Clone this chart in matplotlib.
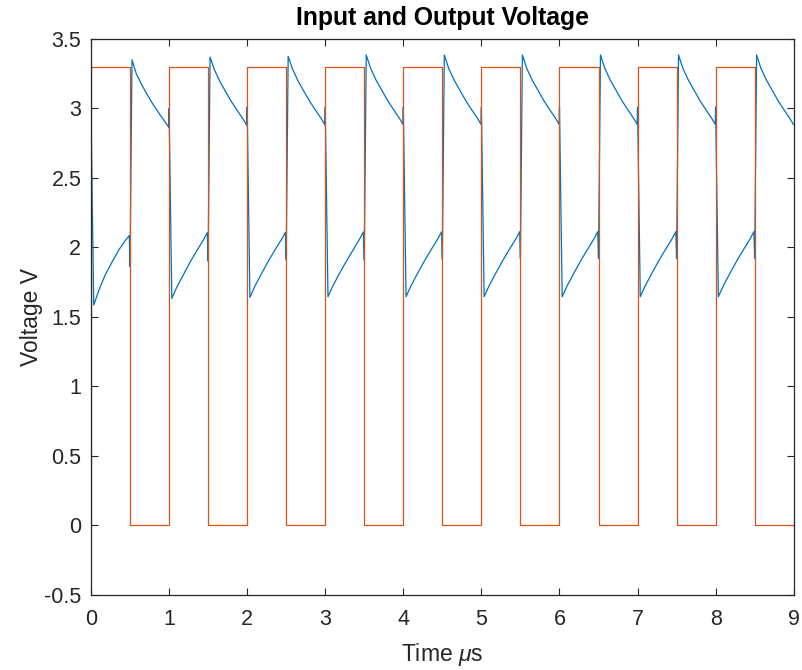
import numpy as np
import matplotlib
matplotlib.use("Agg")
import matplotlib.pyplot as plt
from matplotlib.ticker import FormatStrFormatter

# ---------------- data ----------------
# Input square wave: transition times (µs) and levels (V), step "post"
input_times = [0, 0, 0.5, 1, 1.5, 2, 2.5, 3, 3.5, 4, 4.5, 5, 5.5, 6, 6.5, 7, 7.5, 8, 8.5, 9]
input_levels = [0, 3.3, 0, 3.3, 0, 3.3, 0, 3.3, 0, 3.3, 0, 3.3, 0, 3.3, 0, 3.3, 0, 3.3, 0, 0]

# Output voltage, per cycle (cycle k spans k .. k+1 µs)
cycles = [0, 1, 2, 3, 4, 5, 6, 7, 8]
# value right at the start of each cycle (spike before the drop)
out_spike_up = [2.96, 3.00, 3.01, 3.01, 3.01, 3.01, 3.01, 3.01, 3.01]
# charging part (input high), at offsets into the cycle
rise_offsets = [0.035, 0.10, 0.18, 0.27, 0.36, 0.44, 0.49]
out_rise = [
    [1.585, 1.69, 1.80, 1.895, 1.985, 2.05, 2.085],
    [1.633, 1.715, 1.80, 1.895, 1.98, 2.055, 2.106],
    [1.640, 1.722, 1.807, 1.900, 1.985, 2.058, 2.108],
    [1.645, 1.725, 1.810, 1.900, 1.985, 2.060, 2.112],
    [1.645, 1.725, 1.810, 1.902, 1.987, 2.060, 2.112],
    [1.645, 1.725, 1.810, 1.902, 1.987, 2.060, 2.113],
    [1.645, 1.725, 1.810, 1.902, 1.987, 2.060, 2.113],
    [1.645, 1.725, 1.810, 1.902, 1.987, 2.060, 2.113],
    [1.645, 1.725, 1.810, 1.902, 1.987, 2.060, 2.113],
]
# value right at mid-cycle (spike before the jump)
out_spike_down = [1.86, 1.90, 1.91, 1.91, 1.915, 1.92, 1.92, 1.92, 1.92]
# discharging part (input low), at offsets into the cycle
decay_offsets = [0.525, 0.58, 0.65, 0.72, 0.80, 0.88, 0.95, 0.995]
out_decay = [
    [3.350, 3.25, 3.17, 3.10, 3.025, 2.958, 2.903, 2.865],
    [3.370, 3.28, 3.195, 3.125, 3.048, 2.980, 2.922, 2.880],
    [3.375, 3.285, 3.200, 3.130, 3.052, 2.984, 2.926, 2.883],
    [3.385, 3.290, 3.205, 3.135, 3.056, 2.987, 2.929, 2.886],
    [3.385, 3.290, 3.205, 3.135, 3.056, 2.987, 2.929, 2.886],
    [3.385, 3.290, 3.205, 3.135, 3.056, 2.987, 2.929, 2.886],
    [3.385, 3.290, 3.205, 3.135, 3.056, 2.987, 2.929, 2.886],
    [3.385, 3.290, 3.205, 3.135, 3.056, 2.987, 2.929, 2.886],
    [3.385, 3.290, 3.205, 3.135, 3.056, 2.987, 2.929, 2.886],
]

x_ticks = [0, 1, 2, 3, 4, 5, 6, 7, 8, 9]
y_ticks = [-0.5, 0, 0.5, 1, 1.5, 2, 2.5, 3, 3.5]

# ---------------- assemble output curve ----------------
out_t, out_v = [], []
for k in cycles:
    out_t.append(k)
    out_v.append(out_spike_up[k])
    for off, v in zip(rise_offsets, out_rise[k]):
        out_t.append(k + off)
        out_v.append(v)
    out_t.append(k + 0.5)
    out_v.append(out_spike_down[k])
    for off, v in zip(decay_offsets, out_decay[k]):
        out_t.append(k + off)
        out_v.append(v)

# ---------------- style ----------------
plt.rcParams['font.family'] = ['Liberation Sans', 'DejaVu Sans']
plt.rcParams['mathtext.fontset'] = 'custom'
plt.rcParams['mathtext.rm'] = 'Liberation Sans'
plt.rcParams['mathtext.it'] = 'Liberation Sans:italic'
TXT = '#262626'

fig = plt.figure(figsize=(8.03, 6.70), dpi=100)
ax = fig.add_axes([91 / 803, 1 - 594.7 / 670, (793.7 - 91) / 803, (594.7 - 39) / 670])

ax.plot(out_t, out_v, color='#0072BD', lw=0.9)
ax.step(input_times, input_levels, where='post', color='#D95319', lw=0.9)

ax.set_xlim(0, 9)
ax.set_ylim(-0.5, 3.5)
ax.set_xticks(x_ticks)
ax.set_yticks(y_ticks)
ax.yaxis.set_major_formatter(FormatStrFormatter('%g'))
ax.xaxis.set_major_formatter(FormatStrFormatter('%g'))

ax.tick_params(direction='in', length=5, width=0.8, colors=TXT, labelsize=15.5,
               top=True, right=True)
ax.tick_params(axis='x', pad=10)
ax.tick_params(axis='y', pad=7)
for s in ax.spines.values():
    s.set_color(TXT)
    s.set_linewidth(0.9)

ax.set_xlabel(r'Time $\mu$s', fontsize=16.5, color=TXT, labelpad=8)
ax.set_ylabel('Voltage V', fontsize=16.5, color=TXT, labelpad=1)
ax.set_title('Input and Output Voltage', fontsize=17.8, fontweight='bold', color='black', pad=10)

fig.savefig('out.png', dpi=100)
